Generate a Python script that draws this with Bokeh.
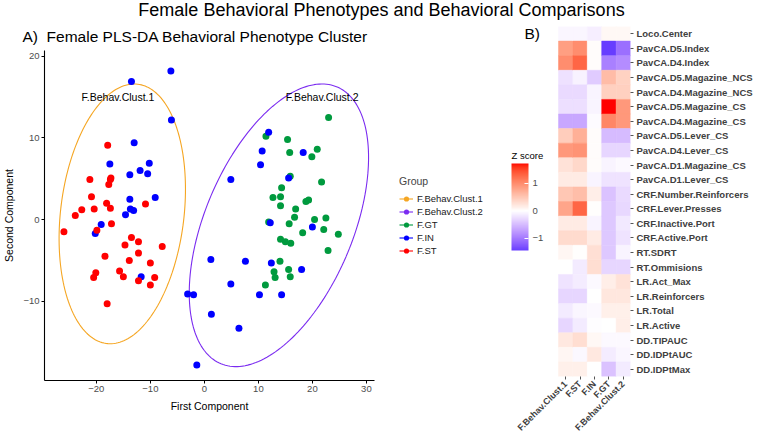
import math
import numpy as np
from bokeh.plotting import figure
from bokeh.models import (Range1d, FactorRange, Label, Legend, LegendItem, ColorBar,
                          LinearColorMapper, FixedTicker, ColumnDataSource)
from bokeh.layouts import column, row
from bokeh.embed import file_html
from bokeh.resources import INLINE
from bokeh.core.properties import value

FONT = "Liberation Sans"

# ---------------- data: PLS-DA scores ----------------
st_x = [-17.9, -17.3, -17.4, -17.7, -21.2, -20.9, -18.1, -20.4, -17.4, -10.9, -22.7, -23.9,
        -17.2, -26.0, -19.9, -13.5, -14.7, -12.2, -7.8, -18.4, -12.2, -13.9, -10.0, -20.1,
        -20.5, -15.7, -15.0, -9.2, -12.2, -10.0, -18.0]
st_y = [9.1, 5.1, 4.9, 4.3, 4.9, 2.8, 2.0, 1.3, 1.4, 1.9, 1.2, 0.5,
        -0.5, -1.5, -1.3, -2.2, -3.1, -2.7, -3.3, -4.5, -4.1, -5.0, -5.3, -6.5,
        -7.1, -6.3, -7.0, -7.1, -7.5, -8.0, -10.3]
in_x = [-13.5, -6.2, -6.1, -13.0, -17.5, -10.2, -11.9, -10.5, -13.8, -13.8, -9.1, -13.7,
        -13.1, -14.6, -19.1, -20.2, -11.7, -3.1, -2.0, 1.2, 1.3, -1.4, 11.9, 10.7,
        18.3, 10.4, 4.9, 15.6, 12.2, 20.0, 7.6, 12.4, 18.0, 4.9, 10.2, 14.3, 6.4]
in_y = [16.9, 18.2, 12.2, 9.4, 6.8, 6.9, 6.0, 5.6, 5.5, 2.5, 2.7, 1.3,
        1.1, 0.6, -0.6, -1.7, -7.0, -9.1, -9.2, -4.9, -11.6, -17.8, 10.7, 8.4,
        8.2, 6.7, 4.9, 5.1, -0.4, -0.9, -5.1, -5.3, -6.1, -7.9, -9.2, -9.2, -13.3]
gt_x = [23.0, 11.4, 15.4, 15.8, 20.9, 19.9, 15.9, 21.7, 14.3, 12.7, 14.1, 14.1, 18.8,
        19.3, 16.9, 16.7, 22.5, 20.4, 11.9, 15.7, 22.1, 18.2, 24.8, 14.1, 15.0, 16.0,
        22.9, 14.0, 12.9, 15.6, 13.1, 15.9, 11.3]
gt_y = [12.5, 10.2, 9.8, 8.2, 8.6, 7.7, 5.3, 4.6, 3.9, 2.7, 2.8, 1.7, 2.2,
        2.4, 1.3, 0.3, 0.2, 0.0, -0.3, -0.5, -1.2, -1.6, -1.8, -2.4, -2.7, -2.9,
        -3.8, -5.1, -6.4, -6.1, -7.1, -7.0, -8.0]

# cluster ellipses (centre, spread, correlation) and their labels
clusters = ["F.Behav.Clust.1", "F.Behav.Clust.2"]
ell_cx = [-15.2, 13.8]
ell_cy = [0.7, -0.7]
ell_sx = [11.7, 16.6]
ell_sy = [15.9, 17.3]
ell_rho = [0.19, 0.48]
clust_label_x = [-16.0, 21.8]
clust_label_y = [15.0, 15.0]

x_ticks = [-20, -10, 0, 10, 20, 30]
y_ticks = [-10, 0, 10, 20]

groups = ["F.Behav.Clust.1", "F.Behav.Clust.2", "F.GT", "F.IN", "F.ST"]

# ---------------- data: heatmap of z scores ----------------
hm_cols = ["F.Behav.Clust.1", "F.ST", "F.IN", "F.GT", "F.Behav.Clust.2"]
hm_rows = ["Loco.Center", "PavCA.D5.Index", "PavCA.D4.Index", "PavCA.D5.Magazine_NCS",
           "PavCA.D4.Magazine_NCS", "PavCA.D5.Magazine_CS", "PavCA.D4.Magazine_CS",
           "PavCA.D5.Lever_CS", "PavCA.D4.Lever_CS", "PavCA.D1.Magazine_CS",
           "PavCA.D1.Lever_CS", "CRF.Number.Reinforcers", "CRF.Lever.Presses",
           "CRF.Inactive.Port", "CRF.Active.Port", "RT.SDRT", "RT.Ommisions",
           "LR.Act_Max", "LR.Reinforcers", "LR.Total", "LR.Active", "DD.TIPAUC",
           "DD.IDPtAUC", "DD.IDPtMax"]
z_clust1 = [-0.07, 0.85, 1.00, -0.22, -0.27, -0.23, -0.65, 0.45, 0.90, 0.25, 0.18, 0.50,
            0.80, 0.17, 0.33, 0.08, 0.00, -0.20, -0.30, -0.15, -0.30, 0.20, 0.08, 0.13]
z_st = [-0.07, 1.00, 1.30, -0.10, -0.27, -0.23, -0.65, 0.70, 0.95, 0.35, 0.18, 0.58,
        1.30, 0.17, 0.33, 0.02, -0.15, -0.14, -0.30, -0.07, -0.15, 0.30, -0.05, 0.13]
z_in = [-0.12, 0.03, 0.03, -0.38, -0.08, -0.08, -0.03, 0.03, 0.03, 0.03, -0.08, 0.15,
        0.02, -0.08, 0.17, 0.28, 0.30, -0.04, 0.00, -0.04, -0.02, 0.07, 0.20, 0.00]
z_gt = [0.07, -1.43, -0.95, 0.60, 0.42, 1.72, 1.05, -0.50, -0.30, -0.08, -0.20, -0.45,
        -0.40, -0.40, -0.40, -0.40, -0.30, 0.15, 0.22, 0.13, 0.00, -0.04, -0.13, -0.45]
z_clust2 = [0.07, -1.07, -0.85, 0.40, 0.42, 0.90, 0.90, -0.50, -0.30, -0.04, -0.20, -0.27,
            -0.28, -0.16, -0.20, -0.08, -0.30, 0.25, 0.22, 0.13, 0.15, -0.04, -0.07, -0.15]
cb_ticks = [-1, 0, 1]

ORANGE = "#F5A623"
PURPLE = "#7B2CF0"
GREEN = "#009A3E"
BLUE = "#0000FF"
RED = "#FF0000"
group_colors = [ORANGE, PURPLE, GREEN, BLUE, RED]

# ---------------- palette: blue-white-red interpolated in CIELAB ----------------
_M = np.array([[0.4124, 0.3576, 0.1805], [0.2126, 0.7152, 0.0722], [0.0193, 0.1192, 0.9505]])
_W = _M @ np.ones(3)


def _rgb2lab(rgb):
    c = np.array(rgb, float) / 255.0
    lin = np.where(c <= 0.04045, c / 12.92, ((c + 0.055) / 1.055) ** 2.4)
    xyz = (_M @ lin) / _W
    f = np.where(xyz > 0.008856, np.cbrt(xyz), 7.787 * xyz + 16 / 116)
    return np.array([116 * f[1] - 16, 500 * (f[0] - f[1]), 200 * (f[1] - f[2])])


def _lab2hex(lab):
    L, a, b = lab
    fy = (L + 16) / 116
    fx = fy + a / 500
    fz = fy - b / 200
    f = np.array([fx, fy, fz])
    xyz = np.where(f > 0.206893, f ** 3, (f - 16 / 116) / 7.787) * _W
    lin = np.clip(np.linalg.solve(_M, xyz), 0, 1)
    s = np.where(lin <= 0.0031308, 12.92 * lin, 1.055 * lin ** (1 / 2.4) - 0.055)
    r, g, bb = np.clip(np.round(s * 255), 0, 255).astype(int)
    return "#%02x%02x%02x" % (r, g, bb)


lab_blue, lab_white, lab_red = _rgb2lab([0, 0, 255]), _rgb2lab([255, 255, 255]), _rgb2lab([255, 0, 0])
palette = []
for t in np.linspace(0, 1, 128):
    palette.append(_lab2hex(lab_blue + (lab_white - lab_blue) * t))
for t in np.linspace(0, 1, 128)[1:]:
    palette.append(_lab2hex(lab_white + (lab_red - lab_white) * t))

# ---------------- title strip ----------------
pt = figure(title=None, frame_width=754, frame_height=20, x_range=(0, 754), y_range=(0, 20),
            output_backend="svg", toolbar_location=None, min_border=0)
pt.axis.visible = False
pt.grid.visible = False
pt.outline_line_color = None
pt.add_layout(Label(x=381, y=10.5, text="Female Behavioral Phenotypes and Behavioral Comparisons",
                    text_align="center", text_baseline="middle", text_font=FONT,
                    text_font_size="18px", text_color="black"))

# ---------------- A) scatter ----------------
pa = figure(title="A)\u00a0\u00a0Female PLS-DA Behavioral Phenotype Cluster",
            frame_width=330, frame_height=330,
            x_range=Range1d(-29.6, 31.5), y_range=Range1d(-19.7, 20.7),
            output_backend="svg", toolbar_location=None,
            min_border_left=42, min_border_right=13, min_border_top=30, min_border_bottom=57)
pa.title.text_font = FONT
pa.title.text_font_size = "15.5px"
pa.title.text_font_style = "normal"
pa.title.text_color = "black"
pa.title.align = "left"
pa.title.offset = -22
pa.title.standoff = 11
pa.xgrid.visible = False
pa.ygrid.visible = False
pa.outline_line_color = None
pa.xaxis.ticker = FixedTicker(ticks=x_ticks)
pa.yaxis.ticker = FixedTicker(ticks=y_ticks)
pa.xaxis.axis_label = "First Component"
pa.yaxis.axis_label = "Second Component"
for ax in (pa.xaxis, pa.yaxis):
    ax.axis_line_color = "black"
    ax.axis_line_width = 1.1
    ax.major_tick_line_color = "black"
    ax.major_tick_out = 3
    ax.major_tick_in = 0
    ax.minor_tick_line_color = None
    ax.major_label_text_font = FONT
    ax.major_label_text_font_size = "9.5px"
    ax.major_label_text_color = "#4D4D4D"
    ax.major_label_standoff = 2
    ax.axis_label_text_font = FONT
    ax.axis_label_text_font_size = "10.5px"
    ax.axis_label_text_font_style = "normal"
    ax.axis_label_text_color = "black"
    ax.axis_label_standoff = 5

tt = np.linspace(0, 2 * np.pi, 200)
for cx, cy, sx, sy, rho, col in zip(ell_cx, ell_cy, ell_sx, ell_sy, ell_rho, [ORANGE, PURPLE]):
    ex = cx + sx * np.cos(tt)
    ey = cy + sy * (rho * np.cos(tt) + np.sqrt(1 - rho ** 2) * np.sin(tt))
    pa.line(ex, ey, line_color=col, line_width=1.1)

pa.scatter(gt_x, gt_y, size=7, fill_color=GREEN, line_color=None)
pa.scatter(in_x, in_y, size=7, fill_color=BLUE, line_color=None)
pa.scatter(st_x, st_y, size=7, fill_color=RED, line_color=None)

pa.text(x=clust_label_x, y=clust_label_y, text=clusters, text_align="center",
        text_baseline="middle", text_font=value(FONT), text_font_size="10.5px",
        text_color="black")

# ---------------- B) heatmap (its frame also hosts legend and colour bar) ----------------
col_pos = [i + 0.5 for i in range(len(hm_cols))]
cols_f, rows_f, z_f = [], [], []
for cp, zs in zip(col_pos, [z_clust1, z_st, z_in, z_gt, z_clust2]):
    for r, z in zip(hm_rows, zs):
        cols_f.append(cp)
        rows_f.append(r)
        z_f.append(z)
src = ColumnDataSource(dict(col=cols_f, row=rows_f, z=z_f))
zmax = max(abs(min(z_f)), abs(max(z_f)))
mapper = LinearColorMapper(palette=palette, low=-zmax, high=zmax)

pb = figure(title=None, frame_width=243, frame_height=350,
            x_range=Range1d(-11.875, 5.0), y_range=FactorRange(*reversed(hm_rows)),
            output_backend="svg", toolbar_location=None, y_axis_location="right",
            min_border_left=0, min_border_right=126, min_border_top=6, min_border_bottom=60)
pb.rect(x="col", y="row", width=1, height=1, source=src,
        fill_color={"field": "z", "transform": mapper},
        line_color={"field": "z", "transform": mapper}, line_width=0.5)
pb.grid.visible = False
pb.outline_line_color = None
pb.xaxis.ticker = FixedTicker(ticks=col_pos)
pb.xaxis.major_label_overrides = {p: c for p, c in zip(col_pos, hm_cols)}
for ax in (pb.xaxis, pb.yaxis):
    ax.axis_line_color = None
    ax.major_tick_line_color = "#555555"
    ax.major_tick_out = 3
    ax.major_tick_in = 0
    ax.minor_tick_line_color = None
    ax.major_label_text_font = FONT
    ax.major_label_text_font_size = "9.5px"
    ax.major_label_text_font_style = "bold"
    ax.major_label_text_color = "#404040"
    ax.major_label_standoff = 3
pb.xaxis.major_label_text_font_size = "9px"
pb.xaxis.major_label_orientation = math.pi / 4

# legend for panel A (keys: point + path); key renderers hold one undrawn (NaN) point
items = []
for g, c in zip(groups, group_colors):
    ln = pb.line(x=[np.nan, np.nan], y=[hm_rows[0], hm_rows[0]], line_color=c, line_width=1.1)
    dt = pb.scatter(x=[np.nan], y=[hm_rows[0]], size=7, fill_color=c, line_color=None)
    items.append(LegendItem(label=g, renderers=[ln, dt]))
legend = Legend(items=items, title="Group", location=(12, 119), padding=0, margin=0,
                spacing=0, glyph_width=14, glyph_height=13, label_height=12,
                label_standoff=4, border_line_color=None, background_fill_color=None,
                label_text_font=FONT, label_text_font_size="9.5px", label_text_color="#1A1A1A",
                title_text_font=FONT, title_text_font_size="10.5px",
                title_text_font_style="normal", title_standoff=5)
pb.add_layout(legend)

cb = ColorBar(color_mapper=mapper, location=(124, 126), width=17, height=87, padding=0,
              ticker=FixedTicker(ticks=cb_ticks), major_label_text_font=FONT,
              major_label_text_font_size="9.5px", major_label_text_color="#4D4D4D",
              major_tick_line_color="white", major_tick_in=4, major_tick_out=0,
              minor_tick_line_color=None, label_standoff=4,
              display_low=min(z_f), display_high=max(z_f),
              background_fill_color=None, border_line_color=None, bar_line_color=None)
pb.add_layout(cb)
pb.add_layout(Label(x=124, y=221, x_units="screen", y_units="screen", text="Z score",
                    text_font=FONT, text_font_size="9.5px", text_baseline="middle",
                    text_color="black"))
pb.add_layout(Label(x=137, y=343, x_units="screen", y_units="screen", text="B)",
                    text_font=FONT, text_font_size="15.5px", text_baseline="middle",
                    text_color="black"))

layout = column(pt, row(pa, column(pb)))
open("out.html", "w").write(file_html(layout, INLINE))
